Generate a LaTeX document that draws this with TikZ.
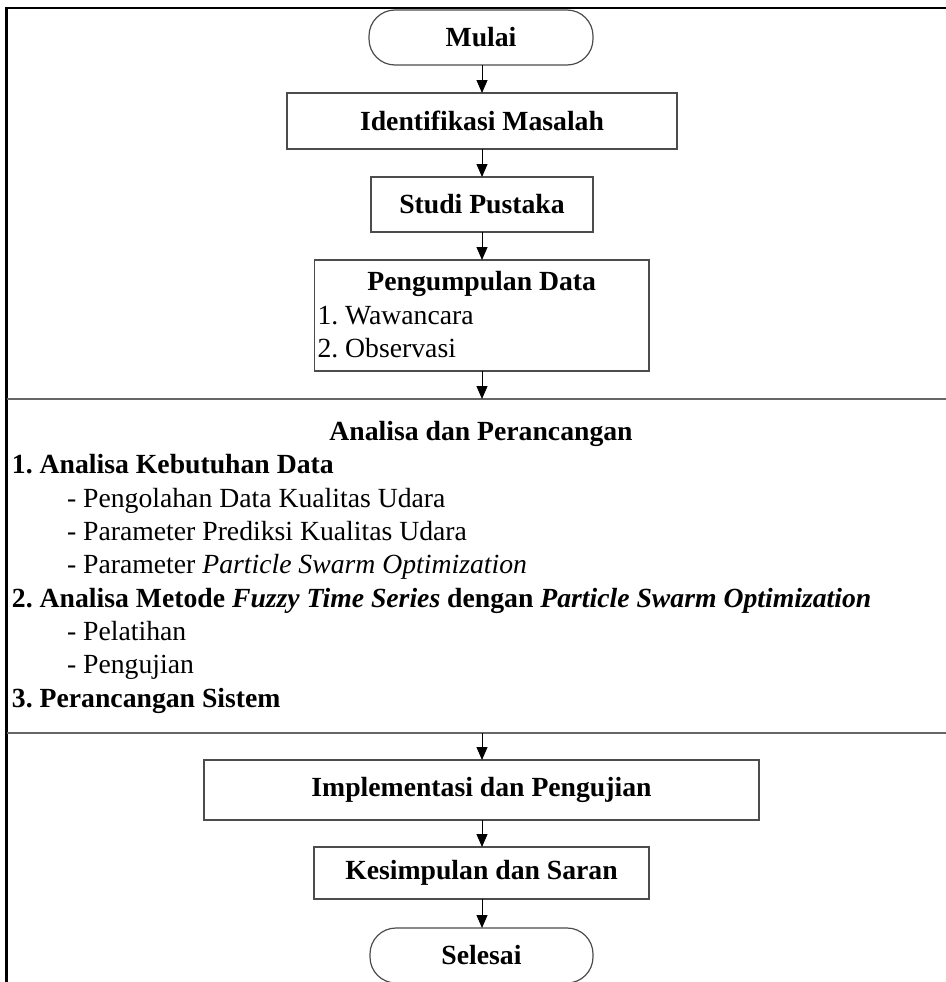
\documentclass[tikz,border=0pt]{standalone}
\usepackage{fontspec}
\setmainfont{Liberation Serif}
\usetikzlibrary{arrows.meta,positioning,fit}
\frenchspacing
\begin{document}
\begin{tikzpicture}[x=1pt,y=-1pt,
  every node/.style={inner sep=0pt,outer sep=0pt},
  txt/.style={font=\fontsize{27.7}{31}\selectfont},
  btxt/.style={font=\fontsize{27.7}{31}\selectfont\bfseries},
  procbox/.style={draw=black!70,line width=1.5pt,rectangle,font=\fontsize{27.7}{31}\selectfont\bfseries,align=center},
  termbox/.style={draw=black!70,line width=1.2pt,rectangle,rounded corners=26pt,font=\fontsize{27.7}{31}\selectfont\bfseries},
  flow/.style={draw=black,line width=1pt,-{Triangle[length=13pt,width=11pt]}},
  frameline/.style={draw=black,line width=2.5pt},
  secline/.style={draw=black!60,line width=2pt}
]
\useasboundingbox (0,0) rectangle (945,982);
\fill[white] (0,0) rectangle (945,982);
% outer frame (top and left only)
\draw[frameline] (946,8) -- (6.5,8) -- (6.5,985);

% nodes
\node[termbox,minimum width=224pt,minimum height=55pt] (mulai) at (481,37.5) {Mulai};
\node[procbox,minimum width=390pt,minimum height=56pt] (idm) at (482,121) {Identifikasi Masalah};
\node[procbox,minimum width=222pt,minimum height=55pt] (sp) at (482,204.5) {Studi Pustaka};
\node[procbox,minimum width=334.5pt,minimum height=111pt] (pd) at (481.75,315.5) {};
\node[btxt,anchor=base] (pdt) at (481.75,290) {Pengumpulan Data};
\node[txt,anchor=base west] (pd1) at (317.5,324) {1. Wawancara};
\node[txt,anchor=base west] (pd2) at (317.5,357) {2. Observasi};

% analysis region
\coordinate (atl) at (6.5,399);
\coordinate (abr) at (945,733);
\node[fit=(atl)(abr)] (an) {};
\draw[secline] (6.5,399) -- (946,399);
\draw[secline] (6.5,733) -- (946,733);
\node[btxt,anchor=base] (ant) at (481,440) {Analisa dan Perancangan};
\node[btxt,anchor=base west] (a1) at (12,473) {1. Analisa Kebutuhan Data};
\node[txt,anchor=base west] (a11) at (67,507) {- Pengolahan Data Kualitas Udara};
\node[txt,anchor=base west] (a12) at (67,540) {- Parameter Prediksi Kualitas Udara};
\node[txt,anchor=base west] (a13) at (67,573) {- Parameter \textit{Particle Swarm Optimization}};
\node[btxt,anchor=base west] (a2) at (12,607) {2. Analisa Metode \textit{Fuzzy Time Series} dengan \textit{Particle Swarm Optimization}};
\node[txt,anchor=base west] (a21) at (67,640) {- Pelatihan};
\node[txt,anchor=base west] (a22) at (67,673) {- Pengujian};
\node[btxt,anchor=base west] (a3) at (12,707) {3. Perancangan Sistem};

\node[procbox,minimum width=555pt,minimum height=60pt] (imp) at (481.5,790) {Implementasi dan Pengujian};
\node[procbox,minimum width=335pt,minimum height=52pt] (ks) at (481.5,873) {Kesimpulan dan Saran};
\node[termbox,minimum width=223pt,minimum height=55pt] (sel) at (481.5,955.5) {Selesai};

% connectors
\draw[flow] (mulai.south -| 482,0) -- (482,0 |- idm.north);
\draw[flow] (idm.south) -- (sp.north);
\draw[flow] (sp.south) -- (482,0 |- pd.north);
\draw[flow] (482,0 |- pd.south) -- (482,0 |- an.north);
\draw[flow] (482,0 |- an.south) -- (482,0 |- imp.north);
\draw[flow] (482,0 |- imp.south) -- (482,0 |- ks.north);
\draw[flow] (482,0 |- ks.south) -- (482,0 |- sel.north);
\end{tikzpicture}
\end{document}
